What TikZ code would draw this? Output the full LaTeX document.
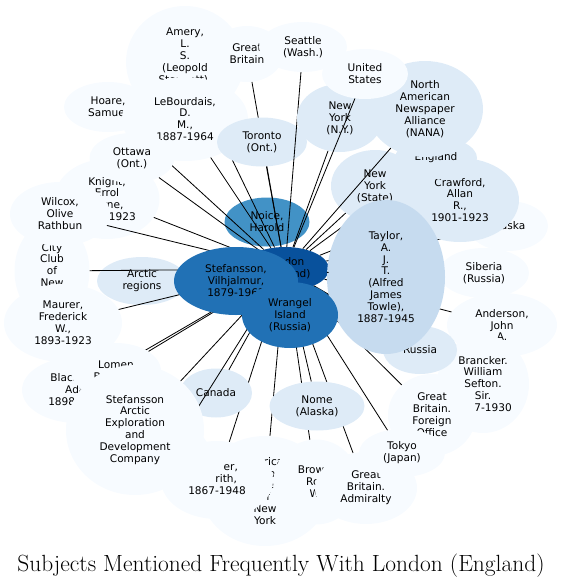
\documentclass[tikz,border=0pt]{standalone}
\usepackage{fontspec}
\newfontfamily\labelfont{DejaVu Sans}
\usetikzlibrary{shapes.geometric}
\definecolor{paleblue}{RGB}{247,251,255}
\definecolor{lightblue}{RGB}{222,235,247}
\definecolor{midblue}{RGB}{198,219,239}
\definecolor{brightblue}{RGB}{66,146,198}
\definecolor{strongblue}{RGB}{33,113,181}
\definecolor{deepblue}{RGB}{8,81,156}

\begin{document}
\begin{tikzpicture}[x=0.03cm,y=-0.03cm,
    every node/.style={font=\labelfont\fontsize{9}{10.2}\selectfont,align=center},
    subj/.style 2 args={ellipse,inner sep=0pt,minimum width=#1*0.03cm,minimum height=#2*0.03cm},
    link/.style={line width=0.7pt}]
    \useasboundingbox (0,0) rectangle (563,587);
    % hub first, the rest is painted over it
    \node[subj={88}{44},fill=deepblue] (london) at (285,269) {London\\(England)};
    \node[subj={85}{49},fill=brightblue] (noice) at (267,222) {Noice,\\Harold};
    % upper left
    \node[subj={118}{112},fill=paleblue] (amery) at (185,62) {Amery,\\L.\\S.\\(Leopold\\Stennett),\\1873-1955};
    \draw[link] (london) -- (amery);
    \node[subj={88}{50},fill=paleblue] (hoare) at (108,107) {Hoare,\\Samuel};
    \draw[link] (london) -- (hoare);
    \node[subj={72}{56},fill=paleblue] (britain) at (247,54) {Great\\Britain};
    \draw[link] (london) -- (britain);
    \node[subj={126}{84},fill=paleblue] (lebourdais) at (185,119) {LeBourdais,\\D.\\M.,\\1887-1964};
    \draw[link] (london) -- (lebourdais);
    \node[subj={90}{49},fill=lightblue] (toronto) at (262,142) {Toronto\\(Ont.)};
    \draw[link] (london) -- (toronto);
    \node[subj={88}{50},fill=paleblue] (seattle) at (303,47) {Seattle\\(Wash.)};
    \draw[link] (london) -- (seattle);
    \node[subj={105}{80},fill=paleblue] (knight) at (107,199) {Knight,\\Errol\\Lorne,\\1897-1923};
    \draw[link] (london) -- (knight);
    \node[subj={85}{50},fill=paleblue] (ottawa) at (132,158) {Ottawa\\(Ont.)};
    \draw[link] (london) -- (ottawa);
    % left
    \node[subj={90}{48},fill=lightblue] (arctic) at (142,281) {Arctic\\regions};
    \draw[link] (london) -- (arctic);
    \node[subj={75}{100},fill=paleblue] (cityclub) at (52,271) {City\\Club\\of\\New\\York};
    \draw[link] (london) -- (cityclub);
    \node[subj={100}{64},fill=paleblue] (wilcox) at (60,214) {Wilcox,\\Olive\\Rathbun};
    \draw[link] (london) -- (wilcox);
    \node[subj={118}{78},fill=paleblue] (maurer) at (63,323) {Maurer,\\Frederick\\W.,\\1893-1923};
    \draw[link] (london) -- (maurer);
    \node[subj={110}{66},fill=paleblue] (blackjack) at (77,390) {Blackjack,\\Ada,\\1898-1983};
    \draw[link] (london) -- (blackjack);
    \node[subj={90}{56},fill=paleblue] (lomen) at (116,371) {Lomen\\Brothers};
    \draw[link] (london) -- (lomen);
    % lower left
    \node[subj={128}{110},fill=paleblue] (ags) at (265,491) {American\\Geographical\\Society\\of\\New\\York};
    \draw[link] (london) -- (ags);
    \node[subj={112}{78},fill=paleblue] (harper) at (217,480) {\makebox[35.7pt][r]{er,}\\\makebox[34pt][r]{rith,}\\1867-1948};
    \draw[link] (london) -- (harper);
    \node[subj={72}{49},fill=lightblue] (canada) at (216,393) {Canada};
    \draw[link] (london) -- (canada);
    \node[subj={84}{66},fill=paleblue] (hidden) at (168,455) {};
    \draw[link] (london) -- (hidden);
    \node[subj={138}{130},fill=paleblue] (company) at (135,430) {Stefansson\\Arctic\\Exploration\\and\\Development\\Company};
    \draw[link] (london) -- (company);
    % lower right
    \node[subj={85}{85},fill=paleblue] (brown) at (316,482) {Brown,\\Roy\\W.};
    \draw[link] (london) -- (brown);
    \node[subj={102}{72},fill=paleblue] (admiralty) at (366,488) {Great\\Britain.\\Admiralty};
    \draw[link] (london) -- (admiralty);
    \node[subj={95}{49},fill=lightblue] (nome) at (317,406) {Nome\\(Alaska)};
    \draw[link] (london) -- (nome);
    \node[subj={80}{50},fill=paleblue] (alaska) at (508,226) {Alaska};
    \draw[link] (london) -- (alaska);
    \node[subj={90}{50},fill=paleblue] (siberia) at (484,273) {Siberia\\(Russia)};
    \draw[link] (london) -- (siberia);
    \node[subj={110}{64},fill=paleblue] (anderson) at (502,325) {Anderson,\\John\\A.};
    \draw[link] (london) -- (anderson);
    \node[subj={92}{98},fill=paleblue] (brancker) at (483,384) {Brancker.\\William\\Sefton.\\Sir.\\1877-1930};
    \draw[link] (london) -- (brancker);
    \node[subj={88}{82},fill=paleblue] (foreign) at (432,415) {Great\\Britain.\\Foreign\\Office};
    \draw[link] (london) -- (foreign);
    \node[subj={86}{48},fill=paleblue] (tokyo) at (402,453) {Tokyo\\(Japan)};
    \draw[link] (london) -- (tokyo);
    \node[subj={74}{48},fill=lightblue] (russia) at (420,350) {Russia};
    \draw[link] (london) -- (russia);
    % upper right
    \node[subj={118}{84},fill=lightblue] (crawford) at (460,200) {Crawford,\\Allan\\R.,\\1901-1923};
    \draw[link] (london) -- (crawford);
    \node[subj={82}{42},fill=lightblue] (england) at (436,158) {England};
    \draw[link] (london) -- (england);
    \node[subj={88}{72},fill=lightblue] (nystate) at (375,186) {New\\York\\(State)};
    \draw[link] (london) -- (nystate);
    \node[subj={116}{96},fill=lightblue] (nana) at (425,109) {North\\American\\Newspaper\\Alliance\\(NANA)};
    \draw[link] (london) -- (nana);
    \node[subj={86}{68},fill=lightblue] (nycity) at (340,118) {New\\York\\(N.Y.)};
    \draw[link] (london) -- (nycity);
    \node[subj={86}{50},fill=paleblue] (states) at (365,74) {United\\States};
    \draw[link] (london) -- (states);
    \node[subj={118}{154},fill=midblue] (taylor) at (386,277) {Taylor,\\A.\\J.\\T.\\(Alfred\\James\\Towle),\\1887-1945};
    \draw[link] (london) -- (taylor);
    % the two big ones sit on top
    \node[subj={124}{68},fill=strongblue] (stefansson) at (236,281) {Stefansson,\\Vilhjalmur,\\1879-1962};
    \node[subj={96}{66},fill=strongblue] (wrangel) at (290,315) {Wrangel\\Island\\(Russia)};
    \node[font=\fontsize{20}{24}\selectfont] (title) at (281,566) {Subjects Mentioned Frequently With London (England)};
\end{tikzpicture}
\end{document}
